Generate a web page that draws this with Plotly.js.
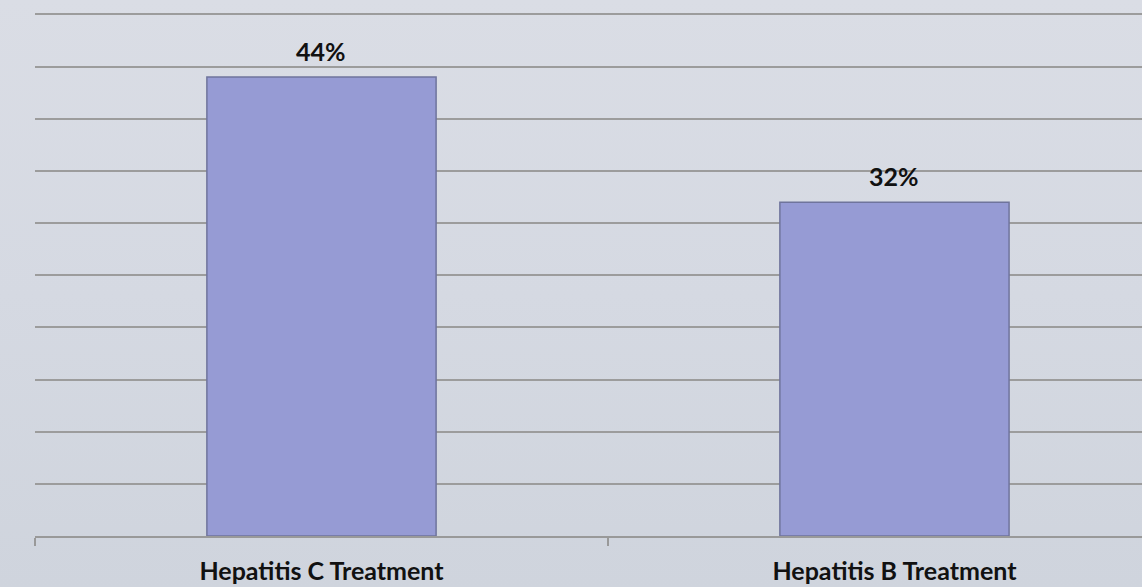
<!DOCTYPE html>
<html>
<head>
<meta charset="utf-8">
<script src="https://cdn.plot.ly/plotly-3.0.1.min.js"></script>
<style>
  html, body { margin: 0; padding: 0; }
  body {
    width: 1142px; height: 587px; overflow: hidden;
    background: linear-gradient(to bottom, #dadde5 0%, #d5d9e2 50%, #cfd4dd 100%);
  }
  #chart { width: 1142px; height: 587px; }
</style>
</head>
<body>
<div id="chart"></div>
<script>
// Share of patients by treatment programme (percent)
const categories = ["Hepatitis C Treatment", "Hepatitis B Treatment"];
const values = [44, 32];
const labelFont = 'Lato, "Open Sans", "DejaVu Sans", sans-serif';

const bars = {
  type: "bar",
  x: categories,
  y: values,
  width: 0.4,
  marker: {
    color: "#969bd4",
    line: { color: "#6f749c", width: 1.5 }
  },
  hoverinfo: "x+y"
};

// value labels sit above each bar
const annotations = categories.map((c, i) => ({
  x: c,
  y: values[i],
  xref: "x",
  yref: "y",
  text: "<b>" + values[i] + "%</b>",
  showarrow: false,
  yanchor: "bottom",
  yshift: 9,
  font: { family: labelFont, size: 25, color: "#111111" }
}));

const layout = {
  width: 1142,
  height: 587,
  margin: { l: 35, r: 0, t: 4, b: 51, pad: 0 },
  paper_bgcolor: "rgba(0,0,0,0)",
  plot_bgcolor: "rgba(0,0,0,0)",
  showlegend: false,
  xaxis: {
    type: "category",
    range: [-0.5, 1.432],
    tickson: "boundaries",
    ticks: "outside",
    ticklen: 8,
    tickwidth: 1.5,
    tickcolor: "#999999",
    ticklabelstandoff: 12,
    showline: true,
    linecolor: "#999999",
    linewidth: 2,
    showgrid: false,
    zeroline: false,
    fixedrange: true,
    tickfont: { family: labelFont, size: 25, color: "#111111", weight: "bold" }
  },
  yaxis: {
    range: [0, 51],
    tickvals: [5, 10, 15, 20, 25, 30, 35, 40, 45, 50],
    showgrid: true,
    gridcolor: "#9c9c9c",
    gridwidth: 2,
    showticklabels: false,
    zeroline: false,
    showline: false,
    fixedrange: true
  },
  annotations: annotations
};

Plotly.newPlot("chart", [bars], layout, { displayModeBar: false, staticPlot: true });
</script>
</body>
</html>
